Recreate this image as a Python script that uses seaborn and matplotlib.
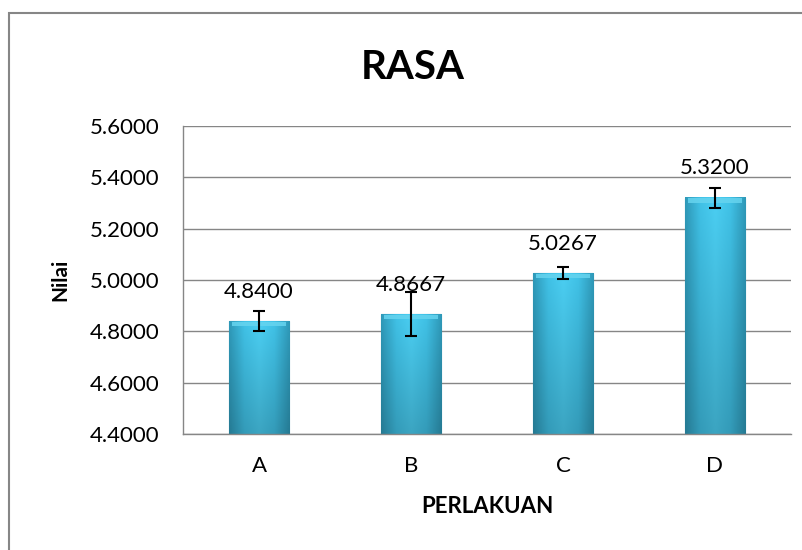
import matplotlib
matplotlib.use("Agg")
import matplotlib.pyplot as plt
import seaborn as sns
import numpy as np
import pandas as pd
from matplotlib.colors import LinearSegmentedColormap
from matplotlib.patches import Rectangle

# data
perlakuan = ["A", "B", "C", "D"]
nilai = [4.8400, 4.8667, 5.0267, 5.3200]
galat = [0.04, 0.085, 0.023, 0.04]

sns.set_theme(style="white")
plt.rcParams['font.family'] = ['Lato', 'DejaVu Sans']
plt.rcParams['text.color'] = 'black'
plt.rcParams['axes.labelcolor'] = 'black'
plt.rcParams['xtick.color'] = 'black'
plt.rcParams['ytick.color'] = 'black'

df = pd.DataFrame({"PERLAKUAN": perlakuan, "Nilai": nilai})

fig = plt.figure(figsize=(8.03, 5.5), dpi=100)
ax = fig.add_axes([0.228, 0.211, 0.757, 0.560])

sns.barplot(data=df, x="PERLAKUAN", y="Nilai", color="#37AED0", width=0.4,
            edgecolor="#2A88A4", linewidth=0.8, ax=ax, zorder=2)

ymin, ymax = 4.4, 5.6

# fake the office-style gradient fill inside each bar
cmap = LinearSegmentedColormap.from_list("bar", ["#2B8DAA", "#3BB2D4", "#45BEDF", "#3BB2D4", "#2B8DAA"])
vert = np.linspace(1.0, 0.80, 60)[:, None]
horiz = cmap(np.linspace(0, 1, 60))[None, :, :3]
grad = np.clip(horiz * vert[:, :, None] / 0.92, 0, 1)
for p in ax.patches:
    x0, w = p.get_x(), p.get_width()
    top = p.get_y() + p.get_height()
    ax.imshow(grad, extent=[x0, x0 + w, ymin, top], aspect="auto",
              origin="upper", zorder=2.5)
    # light bevel on top
    ax.add_patch(Rectangle((x0 + w * 0.05, top - 0.02), w * 0.90, 0.018,
                           facecolor="#66D4EF", edgecolor="none", zorder=2.6, alpha=0.85))

ax.errorbar(x=np.arange(len(perlakuan)), y=nilai, yerr=galat, fmt="none",
            ecolor="black", elinewidth=1.5, capsize=4, capthick=1.5, zorder=4)

for i, v in enumerate(nilai):
    ax.annotate(f"{v:.4f}", (i, v), xytext=(0, 14), textcoords="offset points",
                ha="center", va="bottom", fontsize=16, color="black", zorder=5)

ticks = np.arange(4.4, 5.61, 0.2)
ax.set_ylim(ymin, ymax)
ax.set_yticks(ticks)
ax.set_yticklabels([f"{t:.4f}" for t in ticks], fontsize=16)
ax.set_xlim(-0.5, 3.5)
ax.set_xticks(range(len(perlakuan)))
ax.set_xticklabels(perlakuan, fontsize=16)
ax.tick_params(axis="x", which="major", length=0, pad=16)
ax.set_xticks(np.arange(-0.5, 3.6, 1), minor=True)
ax.tick_params(axis="x", which="minor", length=7, color="#868686", width=1, direction="out")
ax.tick_params(axis="y", length=7, color="#868686", width=1, direction="out", pad=10)
ax.yaxis.grid(True, color="#868686", linewidth=1)
ax.set_axisbelow(True)
for s in ["top", "right"]:
    ax.spines[s].set_visible(False)
for s in ["left", "bottom"]:
    ax.spines[s].set_color("#868686")
    ax.spines[s].set_linewidth(1)
    ax.spines[s].set_zorder(3)

ax.set_xlabel("PERLAKUAN", fontsize=16, fontweight="bold", labelpad=14)
ax.set_ylabel("Nilai", fontsize=15, fontweight="bold", labelpad=14)
fig.text(0.514, 0.877, "RASA", ha="center", va="center", fontsize=29, fontweight="bold")

# outer chart border
fig.add_artist(Rectangle((9 / 803, -0.1), 1.2, 1 - 13 / 550 + 0.1, transform=fig.transFigure,
                         facecolor="none", edgecolor="#868686", linewidth=1.5))

fig.savefig("out.png", dpi=100)
